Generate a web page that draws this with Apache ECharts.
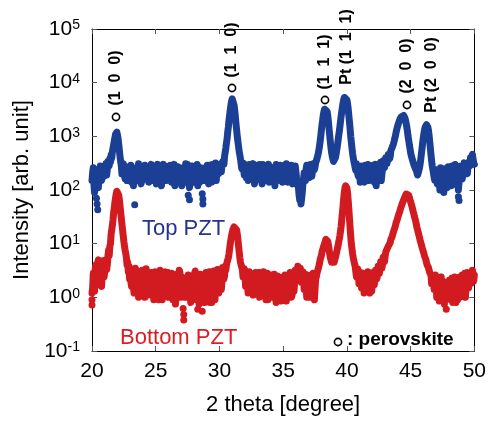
<!DOCTYPE html>
<html>
<head>
<meta charset="utf-8">
<script src="https://cdn.jsdelivr.net/npm/echarts@6/dist/echarts.min.js"></script>
<style>
  html, body { margin: 0; padding: 0; background: #fff; }
  #main { width: 489px; height: 421px; }
</style>
</head>
<body>
<div id="main"></div>
<script>
// XRD scan: 2theta 20 -> 50 deg, 0.05 deg step (one row = 1 deg)
var scanStart = 20;
var scanStep = 0.05;

// Top PZT intensity
var topPZT = [
  150, 210, 260, 130, 90, 240, 220, 170, 140, 120, 110, 200, 180, 280, 290, 150, 170, 250, 230, 180,
  200, 270, 310, 190, 240, 340, 330, 280, 380, 330, 450, 390, 520, 600, 700, 820, 950, 1100, 1150, 1200,
  1050, 900, 700, 540, 420, 340, 280, 200, 230, 310, 300, 180, 160, 260, 250, 150, 190, 270, 280, 170,
  210, 290, 140, 200, 260, 120, 180, 240, 170, 190, 230, 150, 170, 310, 290, 200, 200, 130, 150, 260,
  240, 160, 180, 290, 300, 200, 160, 250, 220, 140, 130, 210, 260, 300, 200, 150, 170, 240, 280, 190,
  190, 130, 240, 300, 150, 220, 270, 170, 210, 120, 160, 250, 300, 190, 180, 280, 230, 150, 140, 220,
  250, 170, 190, 290, 310, 140, 170, 230, 220, 300, 120, 180, 260, 150, 200, 270, 280, 190, 160, 230,
  230, 120, 180, 260, 270, 200, 140, 310, 210, 160, 300, 240, 160, 110, 130, 200, 240, 280, 190, 140,
  150, 230, 280, 170, 200, 300, 120, 210, 250, 140, 170, 260, 220, 180, 150, 240, 160, 200, 260, 150,
  200, 290, 160, 130, 290, 220, 210, 170, 140, 300, 250, 190, 180, 230, 320, 150, 230, 280, 270, 200,
  200, 260, 300, 220, 300, 340, 350, 300, 420, 500, 600, 750, 900, 1200, 1500, 2000, 2500, 3100, 3800, 4500,
  5000, 5100, 4600, 3800, 3000, 2300, 1700, 1300, 1000, 800, 650, 520, 450, 380, 350, 250, 280, 320, 230, 190,
  300, 200, 170, 280, 260, 150, 140, 300, 220, 180, 280, 200, 190, 310, 250, 130, 160, 220, 230, 290,
  270, 160, 180, 300, 240, 210, 150, 130, 300, 250, 200, 290, 170, 150, 260, 210, 210, 300, 140, 180,
  250, 150, 190, 260, 280, 210, 160, 120, 230, 300, 310, 170, 180, 250, 220, 290, 150, 200, 260, 140,
  200, 150, 290, 230, 170, 310, 240, 140, 130, 200, 270, 180, 210, 290, 180, 130, 250, 200, 160, 280,
  220, 170, 150, 120, 110, 80, 65, 100, 55, 70, 90, 130, 160, 210, 200, 150, 240, 290, 180, 230,
  260, 170, 210, 300, 290, 180, 230, 260, 310, 240, 270, 320, 330, 380, 400, 470, 550, 650, 800, 1000,
  1300, 1650, 2000, 2500, 2900, 3200, 3300, 3400, 3200, 2900, 2400, 1900, 1400, 1050, 800, 620, 500, 430, 380, 340,
  350, 360, 400, 460, 550, 650, 800, 1000, 1200, 1500, 1900, 2400, 2900, 3500, 4200, 4800, 5300, 5600, 5500, 5300,
  4800, 4100, 3300, 2500, 1900, 1400, 1000, 780, 600, 480, 400, 340, 300, 260, 230, 310, 260, 200, 180, 270,
  250, 140, 170, 280, 300, 220, 200, 160, 140, 290, 260, 180, 190, 300, 230, 150, 150, 240, 280, 200,
  200, 290, 160, 140, 250, 300, 120, 190, 220, 280, 180, 150, 270, 330, 150, 200, 240, 350, 300, 260,
  300, 400, 380, 310, 330, 460, 450, 380, 420, 540, 550, 620, 650, 720, 800, 900, 1000, 1150, 1300, 1450,
  1600, 1750, 1900, 2050, 2200, 2300, 2400, 2500, 2500, 2450, 2400, 2200, 2000, 1750, 1500, 1250, 1000, 850, 700, 600,
  500, 440, 400, 360, 330, 300, 280, 260, 250, 230, 220, 190, 200, 230, 260, 310, 380, 480, 600, 770,
  950, 1150, 1350, 1500, 1600, 1650, 1650, 1500, 1300, 1050, 800, 600, 450, 350, 280, 240, 200, 170, 150, 210,
  240, 170, 130, 220, 190, 140, 100, 260, 220, 130, 160, 230, 90, 150, 250, 200, 140, 110, 200, 270,
  170, 120, 230, 190, 120, 280, 260, 150, 180, 230, 300, 180, 210, 270, 150, 100, 140, 180, 220, 280,
  250, 160, 190, 280, 320, 220, 230, 300, 300, 200, 260, 330, 350, 280, 400, 330, 420, 460, 380, 320,
  300
];
// isolated low counts [2theta, intensity]
var topStray = [[20.35, 70], [20.4, 55], [20.45, 43], [23.35, 53], [27.55, 80], [27.65, 66],
  [28.65, 85], [28.7, 68], [28.7, 55], [48.75, 75], [48.8, 64]];

// Bottom PZT intensity
var bottomPZT = [
  1.2, 1.5, 2.8, 1.9, 1.3, 3.2, 4.0, 2.0, 2.2, 4.4, 5.0, 2.6, 1.8, 3.0, 3.5, 1.6, 2.6, 4.8, 4.5, 2.4,
  3.0, 4.2, 5.0, 3.3, 4.0, 5.8, 7.5, 6.0, 9, 10, 15, 16, 22, 28, 38, 46, 60, 72, 85, 95,
  100, 95, 80, 65, 50, 38, 30, 23, 18, 14, 11, 9, 7.5, 6.5, 5.5, 4.0, 4.5, 3.0, 3.8, 2.2,
  3.2, 2.0, 1.6, 3.0, 2.8, 1.5, 1.2, 2.5, 3.5, 1.3, 2.0, 3.1, 1.4, 1.0, 3.0, 2.2, 1.8, 1.1, 2.5, 3.2,
  1.3, 2.4, 2.7, 1.0, 2.0, 3.4, 3.3, 1.5, 1.1, 2.8, 2.4, 1.2, 1.7, 2.9, 3.0, 1.9, 1.5, 0.9, 2.2, 3.0,
  2.9, 1.1, 1.2, 2.6, 2.3, 0.9, 1.6, 3.2, 3.1, 1.4, 0.9, 2.5, 2.1, 1.0, 1.4, 3.0, 2.7, 1.3, 1.8, 2.9,
  1.0, 2.2, 2.6, 1.1, 1.5, 2.8, 3.0, 0.9, 1.2, 2.4, 2.2, 0.75, 0.8, 2.7, 2.5, 1.3, 1.7, 3.2, 2.9, 1.0,
  1.3, 2.4, 1.4, 1.8, 1.2, 2.2, 1.0, 1.5, 2.3, 1.0, 1.1, 2.6, 2.8, 1.2, 1.5, 0.8, 0.9, 2.5, 2.4, 1.4,
  1.6, 2.8, 3.1, 0.9, 1.0, 2.4, 2.2, 1.3, 0.75, 2.0, 2.7, 1.1, 1.4, 1.0, 1.2, 2.6, 2.0, 0.8, 1.2, 2.9,
  2.6, 1.5, 1.1, 2.4, 3.0, 0.8, 1.7, 2.8, 0.8, 1.2, 2.3, 3.1, 1.4, 0.9, 2.9, 1.8, 1.9, 3.3, 3.3, 1.2,
  1.5, 2.6, 2.8, 1.4, 2.0, 3.6, 3.4, 2.2, 2.5, 3.8, 3.2, 4.0, 4.5, 4.8, 5.5, 6.5, 8, 10, 12, 14,
  16, 18, 19, 20.5, 21, 21, 20, 18, 15, 12, 9, 7, 5.5, 4.5, 4, 3.8, 3.3, 2.4, 2.6, 3.4,
  3.0, 1.6, 1.7, 2.8, 2.6, 1.2, 1.3, 3.0, 2.9, 1.5, 2.0, 2.6, 1.5, 1.1, 2.7, 2.2, 1.2, 2.9, 2.3, 1.4,
  1.8, 2.5, 2.9, 1.0, 1.1, 2.6, 2.4, 1.3, 1.6, 3.0, 3.1, 1.5, 1.3, 0.9, 2.2, 2.8, 0.9, 1.6, 2.6, 1.2,
  1.4, 2.6, 2.1, 1.0, 0.95, 2.2, 2.7, 1.5, 1.6, 0.8, 1.1, 2.5, 2.4, 1.2, 1.3, 2.2, 2.0, 0.85, 0.9, 2.4,
  2.3, 1.0, 1.2, 2.6, 1.9, 0.85, 0.9, 2.2, 2.5, 1.5, 1.4, 2.9, 2.0, 1.0, 1.1, 2.6, 2.8, 1.3, 1.9, 3.2,
  3.2, 2.0, 2.4, 3.8, 3.6, 2.6, 2.8, 3.5, 3.3, 1.9, 2.2, 3.0, 2.9, 1.4, 1.6, 2.7, 2.5, 1.0, 1.2, 2.4,
  2.2, 1.3, 1.0, 2.6, 2.6, 1.1, 1.4, 2.8, 1.9, 0.9, 0.9, 2.2, 2.4, 2.8, 3.0, 3.4, 3.8, 4.3, 5.0, 5.5,
  6, 7, 7.5, 8.5, 9, 10, 11, 12, 12, 12, 11, 9.5, 8, 6.5, 5.5, 5, 4.5, 4.2, 4.2, 4.3,
  4.5, 5.0, 5.5, 6.2, 7, 8, 9, 10.5, 12, 14, 17, 21, 28, 38, 50, 70, 90, 110, 120, 122,
  110, 90, 65, 45, 30, 20, 14, 10, 8, 6.5, 5.5, 4.8, 4.2, 3.8, 3.5, 2.4, 2.8, 3.4, 3.2, 1.8,
  2.2, 2.9, 3.0, 1.5, 1.6, 2.8, 2.6, 1.2, 1.3, 2.7, 2.4, 1.5, 1.9, 3.0, 2.8, 1.4, 1.2, 2.4, 2.2, 1.3,
  1.8, 2.9, 2.6, 1.7, 2.2, 3.2, 3.0, 2.2, 2.6, 3.8, 3.6, 2.8, 3.3, 4.6, 4.4, 3.5, 4.2, 5.6, 5.4, 4.6,
  5.8, 7.0, 7.2, 6.5, 7.6, 9.0, 9.5, 8.8, 10.5, 12, 13, 13.5, 14.5, 16.5, 18, 19.5, 21, 24, 26, 28,
  30, 34, 37, 40, 43, 48, 52, 56, 60, 65, 70, 75, 80, 84, 88, 88, 85, 80, 72, 66,
  60, 55, 50, 45, 40, 36, 32, 29, 26, 23, 20, 18, 16, 14.5, 13, 11.5, 10.5, 9.5, 8.5, 7.8,
  7.2, 6.5, 5.8, 5.4, 5.0, 4.4, 4.0, 3.9, 3.6, 3.2, 2.9, 3.0, 2.6, 1.8, 1.9, 2.5, 2.3, 1.4, 1.5, 2.6,
  2.1, 1.0, 1.2, 2.2, 1.8, 0.85, 0.9, 2.0, 2.4, 1.3, 1.1, 2.0, 1.6, 0.75, 0.8, 1.9, 1.1, 1.0, 1.9, 1.4,
  1.0, 2.1, 2.0, 0.9, 1.3, 2.3, 0.8, 1.2, 1.7, 2.4, 1.1, 0.8, 2.2, 1.6, 0.9, 1.0, 1.5, 2.4, 1.0, 1.1,
  1.9, 2.6, 1.2, 1.1, 2.3, 2.8, 1.0, 1.5, 1.7, 2.9, 2.5, 1.5, 1.4, 2.7, 2.8, 1.8, 2.2, 3.2, 3.0, 2.0,
  2.6
];
var bottomStray = [[20.0, 0.72], [20.0, 0.9], [27.15, 0.62], [27.2, 0.48], [27.2, 0.38],
  [28.3, 0.6], [28.65, 0.55], [47.8, 0.6]];

// peak labels (○ marks perovskite)
var peakNames = ['(1  0  0)', '(1  1  0)', '(1  1  1)', 'Pt (1  1  1)', '(2  0  0)', 'Pt (2  0  0)'];
var peakIsPerovskite = [true, true, true, false, true, false];

var font = '"Liberation Sans", Arial, sans-serif';
var blue = '#1b3f95';
var red = '#d11b20';

function toPoints(values) {
  var pts = [];
  for (var i = 0; i < values.length; i++) {
    pts.push([+(scanStart + i * scanStep).toFixed(2), values[i]]);
  }
  return pts;
}

function decadeLabel(v) {
  var e = Math.round(Math.log(v) / Math.LN10);
  return '{b|10}{s|' + e + '}';
}

var chart = echarts.init(document.getElementById('main'));

// label layout: [x, text center y, circle y]
var peakPos = [[116, 78, 117], [232, 50, 88], [325, 62, 100], [347, 47, null], [407, 66, 105], [432, 75, null]];

var graphics = [];
for (var i = 0; i < peakNames.length; i++) {
  graphics.push({
    type: 'text',
    x: peakPos[i][0],
    y: peakPos[i][1],
    rotation: Math.PI / 2,
    style: {
      text: peakNames[i],
      font: 'bold 16px ' + font,
      fill: '#000',
      textAlign: 'center',
      textVerticalAlign: 'middle',
      align: 'center',
      verticalAlign: 'middle'
    }
  });
  if (peakIsPerovskite[i]) {
    graphics.push({
      type: 'circle',
      shape: { cx: peakPos[i][0], cy: peakPos[i][2], r: 3.6 },
      style: { fill: 'transparent', stroke: '#000', lineWidth: 1.6 }
    });
  }
}
graphics.push(
  {
    type: 'circle',
    shape: { cx: 338, cy: 342, r: 3.6 },
    style: { fill: 'transparent', stroke: '#000', lineWidth: 1.6 }
  },
  {
    type: 'text', x: 347, y: 340,
    style: { text: ': perovskite', font: 'bold 19px ' + font, fill: '#000',
      textVerticalAlign: 'middle', verticalAlign: 'middle' }
  },
  {
    type: 'text', x: 142, y: 229,
    style: { text: 'Top PZT', font: '22px ' + font, fill: '#27318f',
      textVerticalAlign: 'middle', verticalAlign: 'middle' }
  },
  {
    type: 'text', x: 120, y: 338,
    style: { text: 'Bottom PZT', font: '22px ' + font, fill: '#df1b22',
      textVerticalAlign: 'middle', verticalAlign: 'middle' }
  }
);

var tickStyle = { inside: true, length: 5, lineStyle: { color: '#555', width: 1 } };
var lineStyle = { lineStyle: { color: '#000', width: 1 } };

// dense scan drawn as a thick round-joined trace, so it reads as a band of dots
function scanSeries(name, color, values) {
  return {
    name: name, type: 'line', showSymbol: false, symbol: 'none',
    lineStyle: { color: color, width: 7, cap: 'round', join: 'round' },
    data: toPoints(values)
  };
}
function straySeries(name, color, pts) {
  return {
    name: name, type: 'scatter', symbolSize: 7,
    itemStyle: { color: color, opacity: 1 },
    data: pts
  };
}

var option = {
  animation: false,
  backgroundColor: '#fff',
  grid: { left: 92, top: 29, width: 384, height: 328 },
  xAxis: [
    {
      type: 'value', min: 20, max: 50, interval: 5, position: 'bottom',
      axisLine: lineStyle, axisTick: tickStyle, splitLine: { show: false },
      axisLabel: { fontSize: 21, color: '#000', fontFamily: font, margin: 10 },
      name: '2 theta [degree]', nameLocation: 'middle', nameGap: 43,
      nameTextStyle: { fontSize: 22, color: '#000', fontFamily: font }
    },
    {
      type: 'value', min: 20, max: 50, interval: 5, position: 'top',
      axisLine: lineStyle, axisTick: tickStyle, splitLine: { show: false },
      axisLabel: { show: false }
    }
  ],
  yAxis: [
    {
      type: 'log', logBase: 10, min: 0.1, max: 100000, interval: 1, position: 'left',
      axisLine: lineStyle, axisTick: tickStyle, splitLine: { show: false },
      axisLabel: {
        formatter: decadeLabel, margin: 12,
        rich: {
          b: { fontSize: 21, fontFamily: font, color: '#000', lineHeight: 21 },
          s: { fontSize: 14, fontFamily: font, color: '#000', lineHeight: 14, verticalAlign: 'top' }
        }
      },
      name: 'Intensity [arb. unit]', nameLocation: 'middle', nameGap: 54, nameRotate: 90,
      nameTextStyle: { fontSize: 22, color: '#000', fontFamily: font }
    },
    {
      type: 'log', logBase: 10, min: 0.1, max: 100000, interval: 1, position: 'right',
      axisLine: lineStyle, axisTick: tickStyle, splitLine: { show: false },
      axisLabel: { show: false }
    }
  ],
  series: [
    scanSeries('Top PZT', blue, topPZT),
    straySeries('Top PZT stray', blue, topStray),
    scanSeries('Bottom PZT', red, bottomPZT),
    straySeries('Bottom PZT stray', red, bottomStray)
  ],
  graphic: graphics
};
chart.setOption(option);
</script>
</body>
</html>
